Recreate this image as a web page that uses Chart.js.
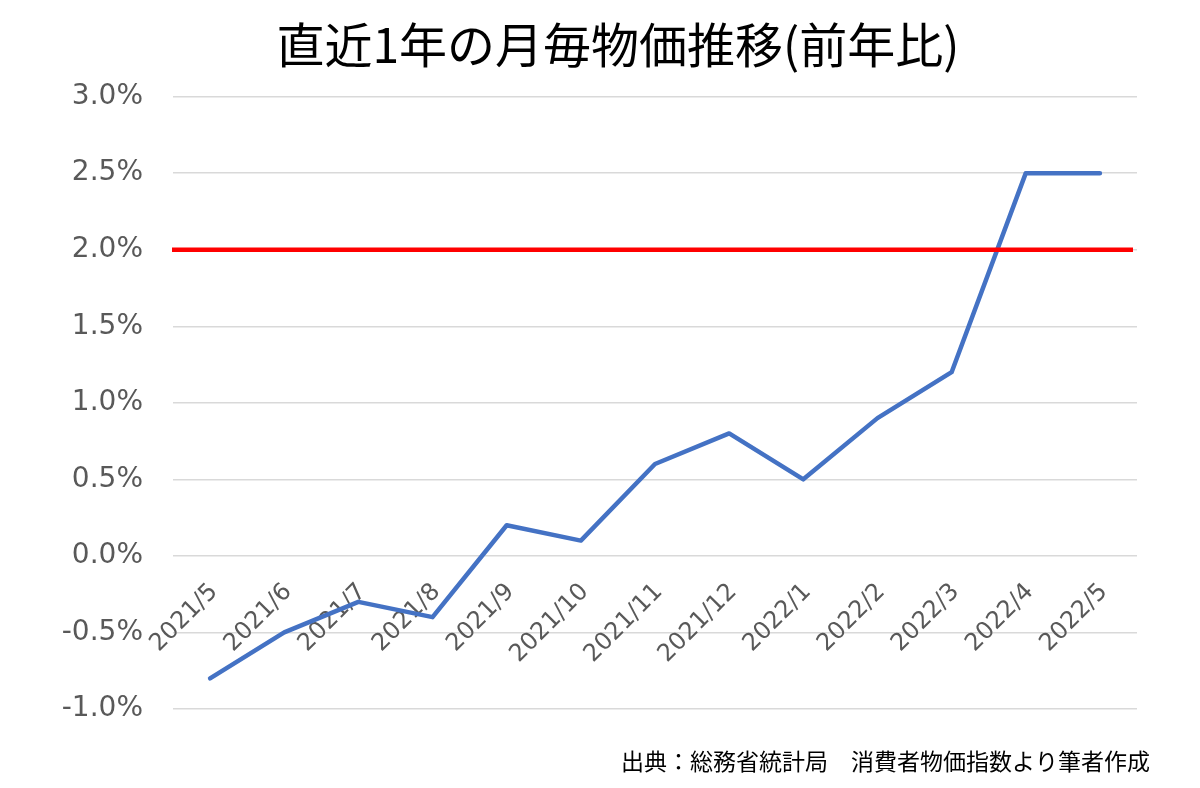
<!DOCTYPE html>
<html lang="ja">
<head>
<meta charset="utf-8">
<script src="https://cdn.jsdelivr.net/npm/chart.js@4.4.1/dist/chart.umd.min.js"></script>
<style>
  html, body { margin: 0; padding: 0; background: #ffffff; }
  #wrap { width: 1200px; height: 788px; }
</style>
</head>
<body>
<div id="wrap"><canvas id="c" width="1200" height="788"></canvas></div>
<script>
const categories = ['2021/5','2021/6','2021/7','2021/8','2021/9','2021/10','2021/11','2021/12','2022/1','2022/2','2022/3','2022/4','2022/5'];
const cpiYoY = [-0.8, -0.5, -0.3, -0.4, 0.2, 0.1, 0.6, 0.8, 0.5, 0.9, 1.2, 2.5, 2.5];
const targetRate = 2.0;
const yTickValues = [-1.0, -0.5, 0.0, 0.5, 1.0, 1.5, 2.0, 2.5, 3.0];
const titleText = '直近1年の月毎物価推移(前年比)';
const sourceText = '出典：総務省統計局　消費者物価指数より筆者作成';

const targetLinePlugin = {
  id: 'targetLine',
  afterDatasetsDraw(chart) {
    const {ctx, chartArea, scales} = chart;
    const y = scales.y.getPixelForValue(targetRate);
    ctx.save();
    ctx.strokeStyle = '#FF0000';
    ctx.lineWidth = 4.5;
    ctx.beginPath();
    ctx.moveTo(chartArea.left - 1, y);
    ctx.lineTo(chartArea.right - 4, y);
    ctx.stroke();
    ctx.restore();
  }
};

const sourcePlugin = {
  id: 'sourceNote',
  afterDraw(chart) {
    const {ctx} = chart;
    ctx.save();
    ctx.font = '23px "Noto Sans CJK JP"';
    ctx.fillStyle = '#000000';
    ctx.textAlign = 'right';
    ctx.textBaseline = 'middle';
    ctx.fillText(sourceText, 1150, 761);
    ctx.restore();
  }
};

new Chart(document.getElementById('c'), {
  type: 'line',
  data: {
    labels: categories,
    datasets: [{
      label: '前年比',
      data: cpiYoY,
      borderColor: '#4472C4',
      backgroundColor: '#4472C4',
      borderWidth: 4.5,
      pointRadius: 0,
      pointHoverRadius: 0,
      tension: 0,
      borderCapStyle: 'round',
      borderJoinStyle: 'round',
      clip: false
    }]
  },
  options: {
    responsive: false,
    animation: false,
    devicePixelRatio: 1,
    layout: { padding: { left: 36, right: 0, top: 0, bottom: 79 } },
    plugins: {
      legend: { display: false },
      tooltip: { enabled: false },
      title: {
        display: true,
        text: titleText,
        color: '#000000',
        font: { family: '"Noto Sans CJK JP"', size: 48, weight: 'normal', lineHeight: 1.2 },
        padding: { top: 16, bottom: 23 }
      }
    },
    scales: {
      x: {
        type: 'category',
        position: { y: 0 },
        offset: true,
        grid: { display: false, drawTicks: false },
        border: { display: false },
        ticks: {
          color: '#595959',
          font: { family: '"DejaVu Sans"', size: 24 },
          minRotation: 45,
          maxRotation: 45,
          autoSkip: false,
          padding: 22,
          labelOffset: 4
        }
      },
      y: {
        min: -1.0,
        max: 3.0,
        afterBuildTicks(scale) {
          scale.ticks = yTickValues.map(v => ({ value: v }));
        },
        afterFit(scale) { scale.width = 137; },
        grid: { color: '#d9d9d9', lineWidth: 1.5, drawTicks: false },
        border: { display: false },
        ticks: {
          color: '#595959',
          font: { family: '"DejaVu Sans"', size: 28 },
          padding: 30,
          callback: (v) => Number(v).toFixed(1) + '%'
        }
      },
      yRight: {
        position: 'right',
        min: -1.0,
        max: 3.0,
        afterFit(scale) { scale.width = 63; },
        grid: { display: false, drawTicks: false },
        border: { display: false },
        ticks: { display: false }
      }
    }
  },
  plugins: [targetLinePlugin, sourcePlugin]
});
</script>
</body>
</html>
